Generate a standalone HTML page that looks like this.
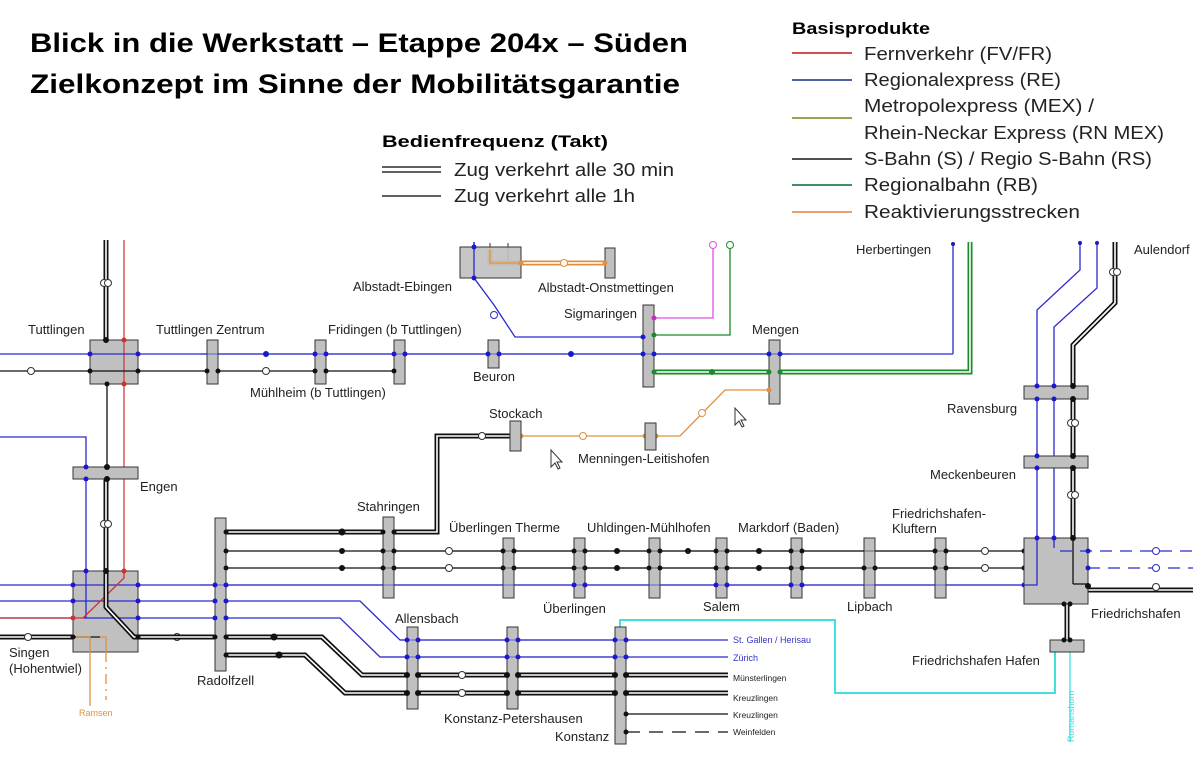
<!DOCTYPE html>
<html><head><meta charset="utf-8"><style>
html,body{margin:0;padding:0;background:#fff}
svg{display:block}
text{font-family:"Liberation Sans",sans-serif}
</style></head><body>
<svg width="1193" height="766" viewBox="0 0 1193 766" xmlns="http://www.w3.org/2000/svg">
<defs>
<style>
.bl{stroke:#2a2ad0;stroke-width:1.3;fill:none}
.k{stroke:#111;stroke-width:1.3;fill:none}
.dk{stroke:#111;stroke-width:5;fill:none}
.dw{stroke:#fff;stroke-width:1.6;fill:none}
.st{fill:#c0c0c0;stroke:#333;stroke-width:1}
.lb{font-size:13px;fill:#222}
.sm{font-size:9px}
</style>
</defs>
<!-- Titles -->
<text x="30" y="52" font-size="27" font-weight="bold" fill="#000" textLength="658" lengthAdjust="spacingAndGlyphs">Blick in die Werkstatt – Etappe 204x – Süden</text>
<text x="30" y="93" font-size="27" font-weight="bold" fill="#000" textLength="650" lengthAdjust="spacingAndGlyphs">Zielkonzept im Sinne der Mobilitätsgarantie</text>
<!-- Takt legend -->
<text x="382" y="147" font-size="17" font-weight="bold" textLength="226" lengthAdjust="spacingAndGlyphs">Bedienfrequenz (Takt)</text>
<line x1="382" y1="167" x2="441" y2="167" stroke="#000" stroke-width="1.3"/><line x1="382" y1="172" x2="441" y2="172" stroke="#000" stroke-width="1.3"/>
<line x1="382" y1="196" x2="441" y2="196" stroke="#000" stroke-width="1.3"/>
<text x="454" y="176" font-size="18" fill="#222" textLength="220" lengthAdjust="spacingAndGlyphs">Zug verkehrt alle 30 min</text>
<text x="454" y="202" font-size="18" fill="#222" textLength="181" lengthAdjust="spacingAndGlyphs">Zug verkehrt alle 1h</text>
<!-- Basisprodukte -->
<text x="792" y="34" font-size="17" font-weight="bold" textLength="138" lengthAdjust="spacingAndGlyphs">Basisprodukte</text>
<g stroke-width="2">
<line x1="792" y1="53" x2="852" y2="53" stroke="#d05050"/>
<line x1="792" y1="80" x2="852" y2="80" stroke="#5060a0"/>
<line x1="792" y1="118" x2="852" y2="118" stroke="#90a850"/>
<line x1="792" y1="159" x2="852" y2="159" stroke="#505050"/>
<line x1="792" y1="185" x2="852" y2="185" stroke="#409060"/>
<line x1="792" y1="212" x2="852" y2="212" stroke="#e8a070"/>
</g>
<g font-size="18" fill="#222">
<text x="864" y="60" textLength="188" lengthAdjust="spacingAndGlyphs">Fernverkehr (FV/FR)</text>
<text x="864" y="86" textLength="197" lengthAdjust="spacingAndGlyphs">Regionalexpress (RE)</text>
<text x="864" y="112" textLength="230" lengthAdjust="spacingAndGlyphs">Metropolexpress (MEX) /</text>
<text x="864" y="139" textLength="300" lengthAdjust="spacingAndGlyphs">Rhein-Neckar Express (RN MEX)</text>
<text x="864" y="165" textLength="288" lengthAdjust="spacingAndGlyphs">S-Bahn (S) / Regio S-Bahn (RS)</text>
<text x="864" y="191" textLength="174" lengthAdjust="spacingAndGlyphs">Regionalbahn (RB)</text>
<text x="864" y="218" textLength="216" lengthAdjust="spacingAndGlyphs">Reaktivierungsstrecken</text>
</g>

<!-- ===== Top corridor ===== -->
<line class="bl" x1="0" y1="354" x2="953" y2="354"/>
<polyline class="bl" points="953,354 953,242"/>
<line class="k" x1="0" y1="371" x2="400" y2="371"/>
<!-- green double -->
<polyline points="654,372 970,372 970,242" stroke="#1a8a2a" stroke-width="5" fill="none"/>
<polyline points="654,372 970,372 970,242" stroke="#fff" stroke-width="1.6" fill="none"/>
<!-- Tuttlingen vertical double north -->
<line class="dk" x1="106" y1="240" x2="106" y2="340"/><line class="dw" x1="106" y1="240" x2="106" y2="340"/>
<circle cx="104" cy="283" r="3.5" fill="#fff" stroke="#333"/><circle cx="108" cy="283" r="3.5" fill="#fff" stroke="#333"/>
<!-- Tuttlingen to Engen single -->
<line class="k" x1="107" y1="384" x2="107" y2="479"/>
<!-- Engen to Singen double -->
<line class="dk" x1="106" y1="479" x2="106" y2="571"/><line class="dw" x1="106" y1="479" x2="106" y2="571"/>
<circle cx="104" cy="524" r="3.5" fill="#fff" stroke="#333"/><circle cx="108" cy="524" r="3.5" fill="#fff" stroke="#333"/>
<!-- blue from left to Engen & Singen -->
<polyline class="bl" points="0,437 86,437 86,585"/>
<!-- open circle west -->
<circle cx="31" cy="371" r="3.5" fill="#fff" stroke="#333"/>
<!-- Albstadt -->
<polyline class="bl" points="474,242 474,278 494,305 515,337 643,337"/>
<circle cx="494" cy="315" r="3.5" fill="#fff" stroke="#2a2ad0"/>
<line x1="490" y1="243" x2="490" y2="263" stroke="#333" stroke-width="1"/>
<line x1="508" y1="243" x2="508" y2="263" stroke="#333" stroke-width="1"/>
<polyline points="490,250 490,263 606,263" stroke="#e09040" stroke-width="5" fill="none"/>
<polyline points="490,250 490,263 606,263" stroke="#fff" stroke-width="1.6" fill="none"/>
<rect class="st" x="460" y="247" width="61" height="31" fill-opacity="0.9"/>
<polyline points="490,250 490,263 521,263" stroke="#e09040" stroke-width="1.3" fill="none"/>
<line class="bl" x1="474" y1="242" x2="474" y2="278"/>
<circle cx="564" cy="263" r="3.5" fill="#fff" stroke="#e09040"/>
<rect class="st" x="605" y="248" width="10" height="30"/>
<!-- magenta & green to Sigmaringen -->
<polyline points="654,318 713,318 713,249" stroke="#e050e0" stroke-width="1.3" fill="none"/>
<circle cx="713" cy="245" r="3.5" fill="#fff" stroke="#e050e0"/>
<polyline points="654,335 730,335 730,249" stroke="#1a8a2a" stroke-width="1.3" fill="none"/>
<circle cx="730" cy="245" r="3.5" fill="#fff" stroke="#1a8a2a"/>
<!-- orange Stockach-Mengen -->
<polyline points="521,436 680,436 725,390 769,390" stroke="#e09040" stroke-width="1.3" fill="none"/>
<circle cx="583" cy="436" r="3.5" fill="#fff" stroke="#e09040"/>
<circle cx="702" cy="413" r="3.5" fill="#fff" stroke="#e09040"/>

<!-- stations top -->
<rect class="st" x="90" y="340" width="48" height="44"/>
<line x1="124" y1="240" x2="124" y2="578" stroke="#d03030" stroke-width="1.2"/>
<line class="bl" x1="90" y1="354" x2="138" y2="354"/>
<line class="k" x1="90" y1="371" x2="138" y2="371"/>
<rect class="st" x="207" y="340" width="11" height="44"/>
<rect class="st" x="315" y="340" width="11" height="44"/>
<rect class="st" x="394" y="340" width="11" height="44"/>
<rect class="st" x="488" y="340" width="11" height="28"/>
<rect class="st" x="643" y="305" width="11" height="82"/>
<rect class="st" x="769" y="340" width="11" height="64"/>
<line class="bl" x1="200" y1="354" x2="790" y2="354" stroke-opacity="0.5"/>
<rect class="st" x="73" y="467" width="65" height="12"/>
<!-- dots -->
<g fill="#1a1acc">
<circle cx="90" cy="354" r="2.5"/><circle cx="138" cy="354" r="2.5"/><circle cx="266" cy="354" r="3"/><circle cx="315" cy="354" r="2.5"/><circle cx="326" cy="354" r="2.5"/><circle cx="394" cy="354" r="2.5"/><circle cx="405" cy="354" r="2.5"/><circle cx="488" cy="354" r="2.5"/><circle cx="499" cy="354" r="2.5"/><circle cx="571" cy="354" r="3"/><circle cx="643" cy="354" r="2.5"/><circle cx="654" cy="354" r="2.5"/><circle cx="643" cy="337" r="2.5"/><circle cx="769" cy="354" r="2.5"/><circle cx="780" cy="354" r="2.5"/><circle cx="474" cy="247" r="2.5"/><circle cx="474" cy="278" r="2.5"/><circle cx="86" cy="467" r="2.5"/><circle cx="86" cy="479" r="2.5"/><circle cx="953" cy="244" r="2"/>
</g>
<g fill="#111">
<circle cx="90" cy="371" r="2.5"/><circle cx="138" cy="371" r="2.5"/><circle cx="207" cy="371" r="2.5"/><circle cx="218" cy="371" r="2.5"/><circle cx="315" cy="371" r="2.5"/><circle cx="326" cy="371" r="2.5"/><circle cx="394" cy="371" r="2.5"/><circle cx="106" cy="340" r="3"/><circle cx="107" cy="384" r="2.5"/><circle cx="107" cy="467" r="3"/><circle cx="107" cy="479" r="3"/>
</g>
<circle cx="266" cy="371" r="3.5" fill="#fff" stroke="#333"/>
<circle cx="124" cy="340" r="2.5" fill="#d03030"/><circle cx="124" cy="384" r="2.5" fill="#d03030"/>
<g fill="#1a8a2a"><circle cx="654" cy="372" r="2.5"/><circle cx="712" cy="372" r="3"/><circle cx="769" cy="372" r="2.5"/><circle cx="780" cy="372" r="2.5"/><circle cx="654" cy="335" r="2.5"/></g>
<circle cx="654" cy="318" r="2.5" fill="#c030c0"/>
<g fill="#e09040"><circle cx="521" cy="436" r="2.5"/><circle cx="645" cy="436" r="2.5"/><circle cx="656" cy="436" r="2.5"/><circle cx="769" cy="390" r="2.5"/><circle cx="521" cy="263" r="2.5"/><circle cx="605" cy="263" r="2.5"/></g>

<!-- Stockach link double -->
<polyline class="dk" points="394,532 437,532 437,436 510,436"/>
<polyline class="dw" points="394,532 437,532 437,436 510,436"/>
<circle cx="482" cy="436" r="3.5" fill="#fff" stroke="#333"/>
<rect class="st" x="510" y="421" width="11" height="30"/>
<rect class="st" x="645" y="423" width="11" height="27"/>

<!-- ===== Lake rows ===== -->
<line class="dk" x1="226" y1="532" x2="394" y2="532"/><line class="dw" x1="226" y1="532" x2="394" y2="532"/>
<line class="k" x1="226" y1="551" x2="1024" y2="551"/>
<line class="k" x1="226" y1="568" x2="1024" y2="568"/>
<line class="bl" x1="0" y1="585" x2="1037" y2="585"/>
<polyline class="bl" points="0,601 360,601 400,640 728,640"/>
<polyline class="bl" points="0,618 340,618 380,657 728,657"/>
<line x1="0" y1="618" x2="83" y2="618" stroke="#d03030" stroke-width="1.3"/>
<!-- doubles south -->
<polyline class="dk" points="0,637 322,637 362,675 728,675"/><polyline class="dw" points="0,637 322,637 362,675 728,675"/>
<polyline class="dk" points="226,655 305,655 345,693 728,693"/><polyline class="dw" points="226,655 305,655 345,693 728,693"/>
<line class="k" x1="626" y1="714" x2="728" y2="714"/>
<line x1="626" y1="732" x2="728" y2="732" stroke="#111" stroke-width="1.3" stroke-dasharray="14,9"/>
<circle cx="28" cy="637" r="3.5" fill="#fff" stroke="#333"/>
<circle cx="177" cy="637" r="3.5" fill="#fff" stroke="#333"/>
<circle cx="462" cy="675" r="3.5" fill="#fff" stroke="#333"/>
<circle cx="462" cy="693" r="3.5" fill="#fff" stroke="#333"/>
<!-- Singen box -->
<rect class="st" x="73" y="571" width="65" height="81"/>
<line class="bl" x1="73" y1="585" x2="138" y2="585"/>
<line class="bl" x1="73" y1="601" x2="138" y2="601"/>
<line class="bl" x1="83" y1="618" x2="138" y2="618"/>
<line class="bl" x1="86" y1="571" x2="86" y2="618"/>
<polyline points="124,571 124,578 83,618 73,618" stroke="#d03030" stroke-width="1.3" fill="none"/>
<polyline class="dk" points="106,571 106,607 134,637 226,637"/><polyline class="dw" points="106,571 106,607 134,637 226,637"/>
<line class="k" x1="73" y1="637" x2="100" y2="637"/>
<polyline points="76,637 90,637 90,652 90,706" stroke="#e09040" stroke-width="1.3" fill="none"/>
<polyline points="100,637 106,637 106,652" stroke="#e09040" stroke-width="1.3" fill="none"/>
<line x1="106" y1="652" x2="106" y2="700" stroke="#e09040" stroke-width="1.3" stroke-dasharray="10,5,2,5"/>
<text x="79" y="716" font-size="9" fill="#e09040">Ramsen</text>
<!-- Stations lake -->
<rect class="st" x="215" y="518" width="11" height="153"/>
<rect class="st" x="383" y="517" width="11" height="81"/>
<rect class="st" x="503" y="538" width="11" height="60"/>
<rect class="st" x="574" y="538" width="11" height="60"/>
<rect class="st" x="649" y="538" width="11" height="60"/>
<rect class="st" x="716" y="538" width="11" height="60"/>
<rect class="st" x="791" y="538" width="11" height="60"/>
<rect class="st" x="864" y="538" width="11" height="60"/>
<rect class="st" x="935" y="538" width="11" height="60"/>
<rect class="st" x="407" y="627" width="11" height="82"/>
<rect class="st" x="507" y="627" width="11" height="82"/>
<!-- cyan -->
<polyline points="620,627 620,620 835,620 835,693 1055,693 1055,652" stroke="#40e0e0" stroke-width="2" fill="none"/>
<line x1="1070" y1="652" x2="1070" y2="742" stroke="#40e0e0" stroke-width="1.3"/>
<text transform="translate(1074,742) rotate(-90)" font-size="9" fill="#40e0e0">Romanshorn</text>
<rect class="st" x="615" y="627" width="11" height="117"/>
<!-- blue re-draw over stations (translucent look) -->
<line class="bl" x1="200" y1="585" x2="1037" y2="585" stroke-opacity="0.5"/>
<line class="bl" x1="400" y1="640" x2="630" y2="640" stroke-opacity="0.5"/>
<line class="bl" x1="380" y1="657" x2="630" y2="657" stroke-opacity="0.5"/>
<line class="k" x1="380" y1="551" x2="960" y2="551" stroke-opacity="0.4"/>
<line class="k" x1="380" y1="568" x2="960" y2="568" stroke-opacity="0.4"/>
<circle cx="449" cy="551" r="3.5" fill="#fff" stroke="#333"/><circle cx="449" cy="568" r="3.5" fill="#fff" stroke="#333"/>
<circle cx="985" cy="551" r="3.5" fill="#fff" stroke="#333"/><circle cx="985" cy="568" r="3.5" fill="#fff" stroke="#333"/>
<g fill="#111">
<circle cx="342" cy="532" r="3.5"/><circle cx="342" cy="551" r="3"/><circle cx="342" cy="568" r="3"/>
<circle cx="617" cy="551" r="3"/><circle cx="617" cy="568" r="3"/><circle cx="688" cy="551" r="3"/><circle cx="759" cy="551" r="3"/><circle cx="759" cy="568" r="3"/>
<circle cx="274" cy="637" r="3.5"/><circle cx="279" cy="655" r="3.5"/>
<circle cx="226" cy="532" r="2.5"/><circle cx="226" cy="551" r="2.5"/><circle cx="226" cy="568" r="2.5"/><circle cx="215" cy="637" r="2.5"/><circle cx="226" cy="637" r="2.5"/><circle cx="226" cy="655" r="2.5"/>
<circle cx="383" cy="532" r="2.5"/><circle cx="394" cy="532" r="2.5"/><circle cx="383" cy="551" r="2.5"/><circle cx="394" cy="551" r="2.5"/><circle cx="383" cy="568" r="2.5"/><circle cx="394" cy="568" r="2.5"/>
<circle cx="73" cy="637" r="2.5"/><circle cx="138" cy="637" r="2.5"/><circle cx="106" cy="571" r="3"/>
<circle cx="503" cy="551" r="2.5"/><circle cx="514" cy="551" r="2.5"/><circle cx="503" cy="568" r="2.5"/><circle cx="514" cy="568" r="2.5"/>
<circle cx="574" cy="551" r="2.5"/><circle cx="585" cy="551" r="2.5"/><circle cx="574" cy="568" r="2.5"/><circle cx="585" cy="568" r="2.5"/>
<circle cx="649" cy="551" r="2.5"/><circle cx="660" cy="551" r="2.5"/><circle cx="649" cy="568" r="2.5"/><circle cx="660" cy="568" r="2.5"/>
<circle cx="716" cy="551" r="2.5"/><circle cx="727" cy="551" r="2.5"/><circle cx="716" cy="568" r="2.5"/><circle cx="727" cy="568" r="2.5"/>
<circle cx="791" cy="551" r="2.5"/><circle cx="802" cy="551" r="2.5"/><circle cx="791" cy="568" r="2.5"/><circle cx="802" cy="568" r="2.5"/>
<circle cx="864" cy="568" r="2.5"/><circle cx="875" cy="568" r="2.5"/>
<circle cx="935" cy="551" r="2.5"/><circle cx="946" cy="551" r="2.5"/><circle cx="935" cy="568" r="2.5"/><circle cx="946" cy="568" r="2.5"/>
<circle cx="407" cy="675" r="3"/><circle cx="418" cy="675" r="3"/><circle cx="407" cy="693" r="3"/><circle cx="418" cy="693" r="3"/>
<circle cx="507" cy="675" r="3"/><circle cx="518" cy="675" r="3"/><circle cx="507" cy="693" r="3"/><circle cx="518" cy="693" r="3"/>
<circle cx="615" cy="675" r="3"/><circle cx="626" cy="675" r="3"/><circle cx="615" cy="693" r="3"/><circle cx="626" cy="693" r="3"/><circle cx="626" cy="714" r="2.5"/><circle cx="626" cy="732" r="2.5"/>
<circle cx="1024" cy="551" r="2.5"/><circle cx="1024" cy="568" r="2.5"/>
</g>
<g fill="#1a1acc">
<circle cx="73" cy="585" r="2.5"/><circle cx="138" cy="585" r="2.5"/><circle cx="73" cy="601" r="2.5"/><circle cx="138" cy="601" r="2.5"/><circle cx="138" cy="618" r="2.5"/><circle cx="86" cy="571" r="2.5"/>
<circle cx="215" cy="585" r="2.5"/><circle cx="226" cy="585" r="2.5"/><circle cx="215" cy="601" r="2.5"/><circle cx="226" cy="601" r="2.5"/><circle cx="215" cy="618" r="2.5"/><circle cx="226" cy="618" r="2.5"/>
<circle cx="574" cy="585" r="2.5"/><circle cx="585" cy="585" r="2.5"/><circle cx="716" cy="585" r="2.5"/><circle cx="727" cy="585" r="2.5"/><circle cx="791" cy="585" r="2.5"/><circle cx="802" cy="585" r="2.5"/><circle cx="1024" cy="585" r="2.5"/>
<circle cx="407" cy="640" r="2.5"/><circle cx="418" cy="640" r="2.5"/><circle cx="407" cy="657" r="2.5"/><circle cx="418" cy="657" r="2.5"/>
<circle cx="507" cy="640" r="2.5"/><circle cx="518" cy="640" r="2.5"/><circle cx="507" cy="657" r="2.5"/><circle cx="518" cy="657" r="2.5"/>
<circle cx="615" cy="640" r="2.5"/><circle cx="626" cy="640" r="2.5"/><circle cx="615" cy="657" r="2.5"/><circle cx="626" cy="657" r="2.5"/>
</g>
<circle cx="73" cy="618" r="2.5" fill="#d03030"/><circle cx="124" cy="571" r="2.5" fill="#d03030"/>
<g class="sm">
<text x="733" y="643" font-size="9" fill="#3333cc">St. Gallen / Herisau</text>
<text x="733" y="661" font-size="9" fill="#3333cc">Zürich</text>
<text x="733" y="681" font-size="8.5" fill="#222">Münsterlingen</text>
<text x="733" y="701" font-size="8.5" fill="#222">Kreuzlingen</text>
<text x="733" y="718" font-size="8.5" fill="#222">Kreuzlingen</text>
<text x="733" y="735" font-size="8.5" fill="#222">Weinfelden</text>
</g>

<!-- ===== Friedrichshafen ===== -->
<polyline class="bl" points="1080,242 1080,270 1037,310 1037,585"/>
<polyline class="bl" points="1097,242 1097,288 1054,327 1054,538"/>
<polyline class="dk" points="1115,242 1115,303 1073,345 1073,590 1088,590 1193,590"/>
<polyline class="dw" points="1115,242 1115,303 1073,345 1073,590 1088,590 1193,590"/>
<circle cx="1113" cy="272" r="3.5" fill="#fff" stroke="#333"/><circle cx="1117" cy="272" r="3.5" fill="#fff" stroke="#333"/>
<circle cx="1071" cy="423" r="3.5" fill="#fff" stroke="#333"/><circle cx="1075" cy="423" r="3.5" fill="#fff" stroke="#333"/>
<circle cx="1071" cy="495" r="3.5" fill="#fff" stroke="#333"/><circle cx="1075" cy="495" r="3.5" fill="#fff" stroke="#333"/>
<rect class="st" x="1024" y="386" width="64" height="13"/>
<rect class="st" x="1024" y="456" width="64" height="12"/>
<line class="dk" x1="1067" y1="604" x2="1067" y2="640"/><line class="dw" x1="1067" y1="604" x2="1067" y2="640"/>
<rect class="st" x="1024" y="538" width="64" height="66"/>
<rect class="st" x="1050" y="640" width="34" height="12"/>
<polyline class="bl" points="1037,538 1037,585 1024,585"/>
<line class="k" x1="1073" y1="538" x2="1073" y2="584"/>
<line class="k" x1="1073" y1="584" x2="1088" y2="584"/>
<line class="bl" x1="1054" y1="540" x2="1054" y2="548"/>
<line x1="1060" y1="551" x2="1193" y2="551" stroke="#2a2ad0" stroke-width="1.3" stroke-dasharray="12,8"/>
<line x1="1088" y1="568" x2="1193" y2="568" stroke="#2a2ad0" stroke-width="1.3" stroke-dasharray="12,8"/>
<circle cx="1156" cy="551" r="3.5" fill="#fff" stroke="#2a2ad0"/>
<circle cx="1156" cy="568" r="3.5" fill="#fff" stroke="#2a2ad0"/>
<circle cx="1156" cy="587" r="3.5" fill="#fff" stroke="#333"/>
<g fill="#1a1acc"><circle cx="1037" cy="386" r="2.5"/><circle cx="1037" cy="399" r="2.5"/><circle cx="1054" cy="386" r="2.5"/><circle cx="1054" cy="399" r="2.5"/><circle cx="1037" cy="456" r="2.5"/><circle cx="1037" cy="468" r="2.5"/><circle cx="1037" cy="538" r="2.5"/><circle cx="1054" cy="538" r="2.5"/><circle cx="1088" cy="551" r="2.5"/><circle cx="1088" cy="568" r="2.5"/><circle cx="1080" cy="243" r="2"/><circle cx="1097" cy="243" r="2"/></g>
<g fill="#111"><circle cx="1073" cy="386" r="3"/><circle cx="1073" cy="399" r="3"/><circle cx="1073" cy="456" r="3"/><circle cx="1073" cy="468" r="3"/><circle cx="1073" cy="538" r="3"/><circle cx="1088" cy="586" r="3"/><circle cx="1064" cy="604" r="2.5"/><circle cx="1070" cy="604" r="2.5"/><circle cx="1064" cy="640" r="2.5"/><circle cx="1070" cy="640" r="2.5"/></g>

<!-- Labels -->
<g class="lb">
<text x="28" y="334">Tuttlingen</text>
<text x="156" y="334">Tuttlingen Zentrum</text>
<text x="328" y="334">Fridingen (b Tuttlingen)</text>
<text x="250" y="397">Mühlheim (b Tuttlingen)</text>
<text x="473" y="381">Beuron</text>
<text x="353" y="291">Albstadt-Ebingen</text>
<text x="538" y="292">Albstadt-Onstmettingen</text>
<text x="564" y="318">Sigmaringen</text>
<text x="752" y="334">Mengen</text>
<text x="856" y="254">Herbertingen</text>
<text x="1134" y="254">Aulendorf</text>
<text x="489" y="418">Stockach</text>
<text x="578" y="463">Menningen-Leitishofen</text>
<text x="140" y="491">Engen</text>
<text x="357" y="511">Stahringen</text>
<text x="449" y="532">Überlingen Therme</text>
<text x="587" y="532">Uhldingen-Mühlhofen</text>
<text x="738" y="532">Markdorf (Baden)</text>
<text x="892" y="518">Friedrichshafen-</text>
<text x="892" y="533">Kluftern</text>
<text x="543" y="613">Überlingen</text>
<text x="703" y="611">Salem</text>
<text x="847" y="611">Lipbach</text>
<text x="947" y="413">Ravensburg</text>
<text x="930" y="479">Meckenbeuren</text>
<text x="1091" y="618">Friedrichshafen</text>
<text x="912" y="665">Friedrichshafen Hafen</text>
<text x="395" y="623">Allensbach</text>
<text x="9" y="657">Singen</text>
<text x="9" y="673">(Hohentwiel)</text>
<text x="197" y="685">Radolfzell</text>
<text x="444" y="723">Konstanz-Petershausen</text>
<text x="555" y="741">Konstanz</text>
</g>
<!-- cursors -->
<path d="M735,408 l0,17 l4,-4 l3,6 l2,-1 l-3,-6 l5,0 z" fill="#fff" stroke="#333" stroke-width="1"/>
<path d="M551,450 l0,17 l4,-4 l3,6 l2,-1 l-3,-6 l5,0 z" fill="#fff" stroke="#333" stroke-width="1"/>
</svg>
</body></html>
